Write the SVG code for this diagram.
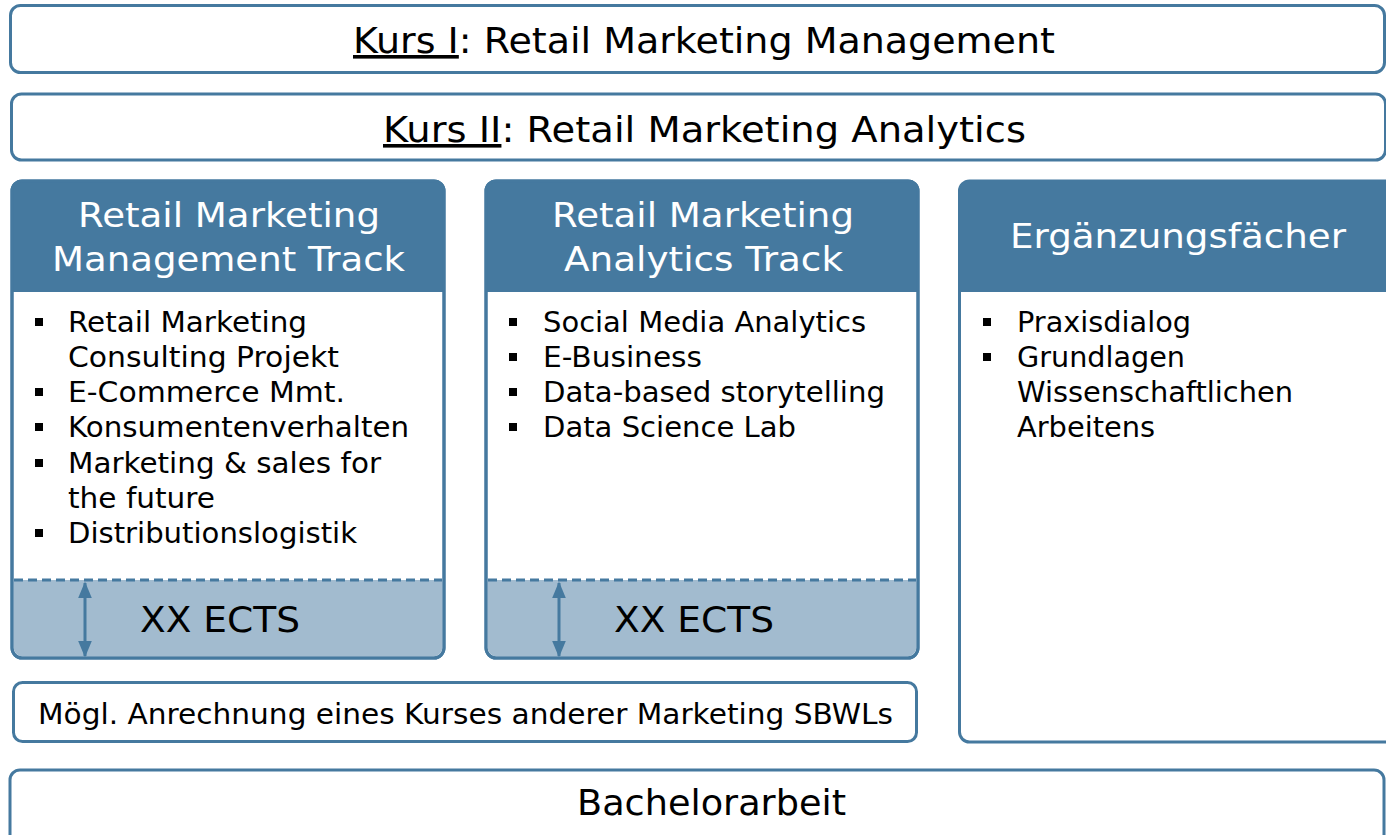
<svg xmlns="http://www.w3.org/2000/svg" width="1386" height="835" viewBox="0 0 1386 835">
<defs>
<style>
.box{fill:#fff;stroke:#45799f;stroke-width:3}
.hdr{fill:#45799f}
.ects{fill:#a2bbcf}
.t{font-family:"DejaVu Sans","Verdana",sans-serif;fill:#000}
.big{font-size:36px}
.h{font-size:34px;fill:#fff}
.b{font-size:28px}
.dash{stroke:#45799f;stroke-width:3;stroke-dasharray:9 5;fill:none}
.arr{stroke:#45799f;stroke-width:3;fill:none}
.bul{fill:#000}
</style>
<marker id="ah" viewBox="0 0 12 10" refX="11" refY="5" markerWidth="5.5" markerHeight="4.6" markerUnits="strokeWidth" orient="auto-start-reverse">
<path d="M0,0 L12,5 L0,10 z" fill="#45799f"/>
</marker>
</defs>

<g id="kurs1">
<rect class="box" x="10.5" y="5.5" width="1374" height="67" rx="10"/>
<text class="t big" x="353" y="53" textLength="702" lengthAdjust="spacingAndGlyphs"><tspan style="text-decoration:underline">Kurs I</tspan>: Retail Marketing Management</text>
</g>

<g id="kurs2">
<rect class="box" x="11.5" y="94" width="1374" height="66" rx="10"/>
<text class="t big" x="383" y="142" textLength="643" lengthAdjust="spacingAndGlyphs"><tspan style="text-decoration:underline">Kurs II</tspan>: Retail Marketing Analytics</text>
</g>

<g id="track1">
<rect class="box" x="12" y="181" width="432" height="477" rx="10"/>
<path class="hdr" d="M12,292 V191 a10,10 0 0 1 10,-10 H434 a10,10 0 0 1 10,10 V292 z"/>
<path class="ects" d="M13.5,580 V647 a9.5,9.5 0 0 0 9.5,9.5 H433 a9.5,9.5 0 0 0 9.5,-9.5 V580 z"/>
<rect x="12" y="181" width="432" height="477" rx="10" fill="none" stroke="#45799f" stroke-width="3"/>
<line class="dash" x1="14" y1="580" x2="442" y2="580"/>
<text class="t h" x="78" y="227" textLength="302" lengthAdjust="spacingAndGlyphs">Retail Marketing</text>
<text class="t h" x="52" y="271" textLength="353" lengthAdjust="spacingAndGlyphs">Management Track</text>
<g class="t b">
<rect class="bul" x="35" y="318" width="8" height="8"/>
<text x="68" y="332" textLength="239" lengthAdjust="spacingAndGlyphs">Retail Marketing</text>
<text x="68" y="367" textLength="271" lengthAdjust="spacingAndGlyphs">Consulting Projekt</text>
<rect class="bul" x="35" y="388" width="8" height="8"/>
<text x="68" y="402" textLength="277" lengthAdjust="spacingAndGlyphs">E-Commerce Mmt.</text>
<rect class="bul" x="35" y="423" width="8" height="8"/>
<text x="68" y="437" textLength="341" lengthAdjust="spacingAndGlyphs">Konsumentenverhalten</text>
<rect class="bul" x="35" y="459" width="8" height="8"/>
<text x="68" y="473" textLength="313" lengthAdjust="spacingAndGlyphs">Marketing &amp; sales for</text>
<text x="68" y="508" textLength="147" lengthAdjust="spacingAndGlyphs">the future</text>
<rect class="bul" x="35" y="529" width="8" height="8"/>
<text x="68" y="543" textLength="289" lengthAdjust="spacingAndGlyphs">Distributionslogistik</text>
</g>
<text class="t big" x="140" y="632" textLength="160" lengthAdjust="spacingAndGlyphs">XX ECTS</text>
</g>

<g id="track2">
<rect class="box" x="486" y="181" width="432" height="477" rx="10"/>
<path class="hdr" d="M486,292 V191 a10,10 0 0 1 10,-10 H908 a10,10 0 0 1 10,10 V292 z"/>
<path class="ects" d="M487.5,580 V647 a9.5,9.5 0 0 0 9.5,9.5 H907 a9.5,9.5 0 0 0 9.5,-9.5 V580 z"/>
<rect x="486" y="181" width="432" height="477" rx="10" fill="none" stroke="#45799f" stroke-width="3"/>
<line class="dash" x1="488" y1="580" x2="916" y2="580"/>
<text class="t h" x="552" y="227" textLength="302" lengthAdjust="spacingAndGlyphs">Retail Marketing</text>
<text class="t h" x="564" y="271" textLength="279" lengthAdjust="spacingAndGlyphs">Analytics Track</text>
<g class="t b">
<rect class="bul" x="509" y="318" width="8" height="8"/>
<text x="543" y="332" textLength="323" lengthAdjust="spacingAndGlyphs">Social Media Analytics</text>
<rect class="bul" x="509" y="353" width="8" height="8"/>
<text x="543" y="367" textLength="159" lengthAdjust="spacingAndGlyphs">E-Business</text>
<rect class="bul" x="509" y="388" width="8" height="8"/>
<text x="543" y="402" textLength="342" lengthAdjust="spacingAndGlyphs">Data-based storytelling</text>
<rect class="bul" x="509" y="423" width="8" height="8"/>
<text x="543" y="437" textLength="253" lengthAdjust="spacingAndGlyphs">Data Science Lab</text>
</g>
<text class="t big" x="614" y="632" textLength="160" lengthAdjust="spacingAndGlyphs">XX ECTS</text>
</g>

<g id="ergaenzung">
<rect class="box" x="959.5" y="181" width="440" height="561" rx="10"/>
<path class="hdr" d="M959.5,292 V191 a10,10 0 0 1 10,-10 H1400 V292 z"/>
<text class="t h" x="1010" y="248" textLength="336" lengthAdjust="spacingAndGlyphs">Ergänzungsfächer</text>
<g class="t b">
<rect class="bul" x="983" y="318" width="8" height="8"/>
<text x="1017" y="332" textLength="174" lengthAdjust="spacingAndGlyphs">Praxisdialog</text>
<rect class="bul" x="983" y="353" width="8" height="8"/>
<text x="1017" y="367" textLength="168" lengthAdjust="spacingAndGlyphs">Grundlagen</text>
<text x="1017" y="402" textLength="276" lengthAdjust="spacingAndGlyphs">Wissenschaftlichen</text>
<text x="1017" y="437" textLength="138" lengthAdjust="spacingAndGlyphs">Arbeitens</text>
</g>
</g>

<g id="anrechnung">
<rect class="box" x="13.5" y="682.5" width="903" height="59" rx="9"/>
<text class="t b" x="38" y="724" textLength="855" lengthAdjust="spacingAndGlyphs">Mögl. Anrechnung eines Kurses anderer Marketing SBWLs</text>
</g>

<g id="bachelor">
<rect class="box" x="10" y="770" width="1374" height="90" rx="10"/>
<text class="t big" x="577" y="815" textLength="269" lengthAdjust="spacingAndGlyphs">Bachelorarbeit</text>
</g>

<g id="connectors">
<line class="arr" x1="85" y1="583" x2="85" y2="656" marker-start="url(#ah)" marker-end="url(#ah)"/>
<line class="arr" x1="559" y1="583" x2="559" y2="656" marker-start="url(#ah)" marker-end="url(#ah)"/>
</g>
</svg>
